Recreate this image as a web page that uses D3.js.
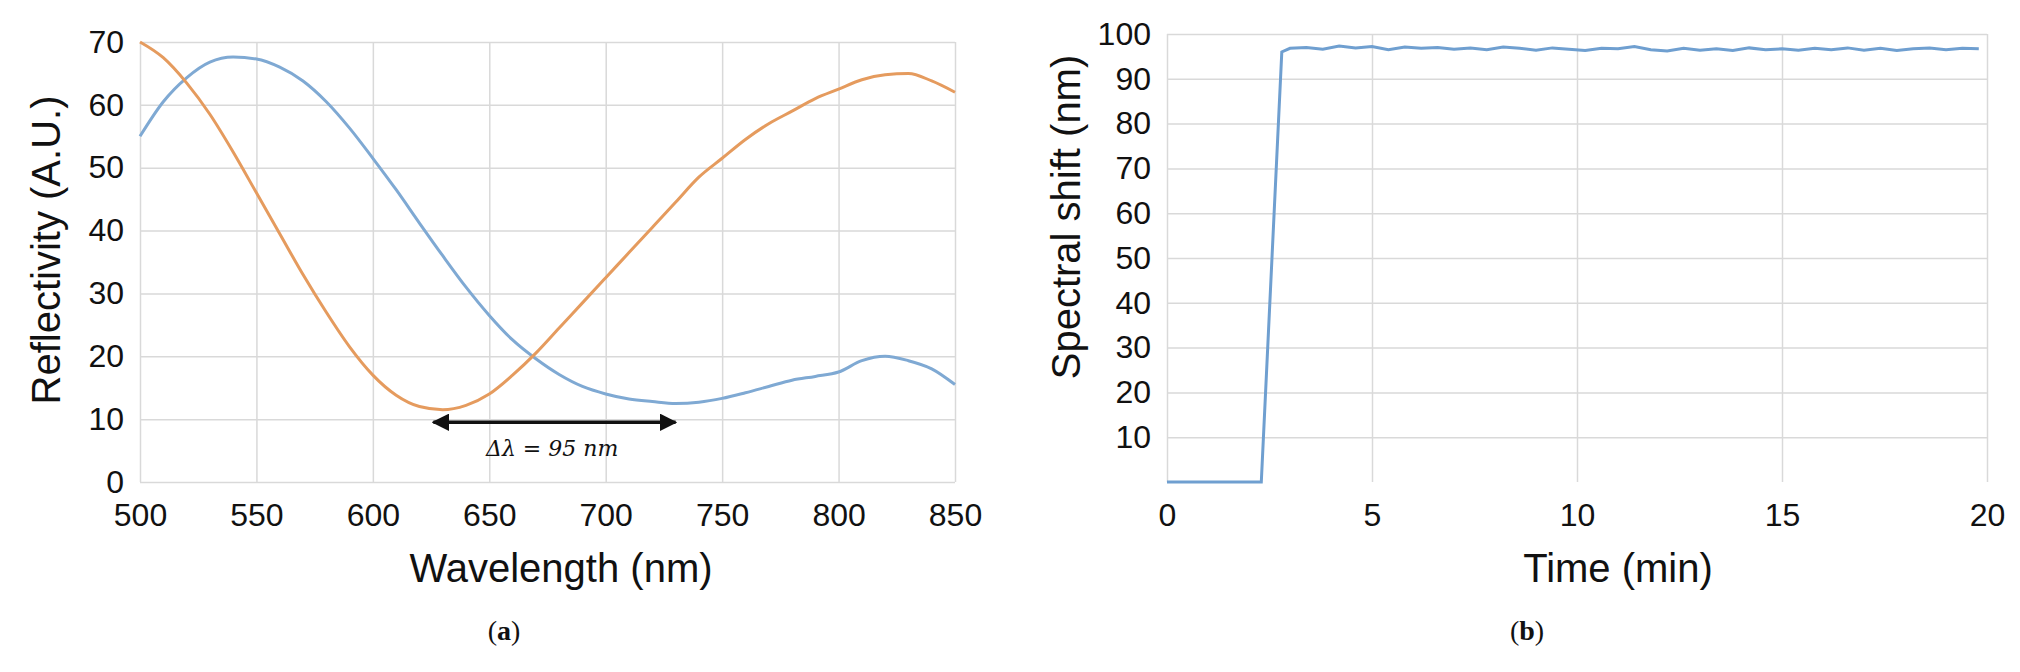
<!DOCTYPE html>
<html>
<head>
<meta charset="utf-8">
<script src="https://cdn.jsdelivr.net/npm/d3@7"></script>
<style>
  body { margin: 0; background: #fff; }
  text { font-family: "Liberation Sans", Arial, sans-serif; fill: #111; }
  .griglia line { stroke: #d9d9d9; stroke-width: 1.5; }
  .griglia path { display: none; }
  .asse path, .asse line { display: none; }
</style>
</head>
<body>
<script>
"use strict"
/* dati (a): lunghezza d'onda (nm) e riflettività */
const lunghezzeOnda = [500, 510, 520, 530, 540, 550, 560, 570, 580, 590, 600, 610, 620, 630, 640, 650, 660, 670, 680, 690, 700, 710, 720, 730, 740, 750, 760, 770, 780, 790, 800, 810, 820, 830, 840, 850];
const riflettivitaBlu = [55, 60.5, 64.3, 66.8, 67.6, 67.3, 66, 63.8, 60.5, 56.3, 51.5, 46.5, 41.2, 36, 31, 26.5, 22.6, 19.6, 17.1, 15.2, 14, 13.2, 12.8, 12.5, 12.7, 13.3, 14.2, 15.2, 16.2, 16.8, 17.5, 19.3, 20, 19.3, 18, 15.5];
const riflettivitaArancio = [70, 67.5, 63.5, 58.5, 52.5, 46, 39.5, 33, 27, 21.5, 17, 13.8, 12, 11.5, 12.2, 14, 17, 20.5, 24.5, 28.5, 32.5, 36.5, 40.5, 44.5, 48.5, 51.5, 54.5, 57, 59, 61, 62.5, 64, 64.8, 65, 63.8, 62];
const tickX1 = [500, 550, 600, 650, 700, 750, 800, 850];
const tickY1 = [0, 10, 20, 30, 40, 50, 60, 70];
/* dati del grafico (b): tempo (min) e spostamento spettrale */
const tempi = [0, 1, 2.3, 2.8, 3.0, 3.4, 3.8, 4.2, 4.6, 5.0, 5.4, 5.8, 6.2, 6.6, 7.0, 7.4, 7.8, 8.2, 8.6, 9.0, 9.4, 9.8, 10.2, 10.6, 11.0, 11.4, 11.8, 12.2, 12.6, 13.0, 13.4, 13.8, 14.2, 14.6, 15.0, 15.4, 15.8, 16.2, 16.6, 17.0, 17.4, 17.8, 18.2, 18.6, 19.0, 19.4, 19.8];
const spostamento = [0, 0, 0, 96, 96.8, 97, 96.6, 97.3, 96.9, 97.2, 96.5, 97.1, 96.8, 97, 96.6, 96.9, 96.5, 97.1, 96.8, 96.4, 96.9, 96.6, 96.3, 96.8, 96.7, 97.2, 96.5, 96.2, 96.8, 96.4, 96.7, 96.3, 96.9, 96.5, 96.7, 96.4, 96.8, 96.5, 96.9, 96.4, 96.8, 96.3, 96.7, 96.9, 96.5, 96.8, 96.7];
const tickX2 = [0, 5, 10, 15, 20];
const tickY2 = [10, 20, 30, 40, 50, 60, 70, 80, 90, 100];

const svg = d3.select("body").append("svg").attr("width", 2020).attr("height", 672);

function disegnaGriglia(sx, sy, tx, ty) {
    svg.append("g").attr("class", "griglia")
        .attr("transform", `translate(0,${sy.range()[0]})`)
        .call(d3.axisBottom(sx).tickValues(tx).tickSize(-(sy.range()[0] - sy.range()[1])).tickFormat(""));
    svg.append("g").attr("class", "griglia")
        .attr("transform", `translate(${sx.range()[0]},0)`)
        .call(d3.axisLeft(sy).tickValues(ty).tickSize(-(sx.range()[1] - sx.range()[0])).tickFormat(""));
}
function disegnaAssi(sx, sy, tx, ty) {
    svg.append("g").attr("class", "asse")
        .attr("transform", `translate(0,${sy.range()[0] + 14})`)
        .call(d3.axisBottom(sx).tickValues(tx).tickSize(0).tickPadding(0))
        .selectAll("text").attr("font-size", "32px").attr("dy", "0.95em");
    svg.append("g").attr("class", "asse")
        .attr("transform", `translate(${sx.range()[0] - 16},0)`)
        .call(d3.axisLeft(sy).tickValues(ty).tickSize(0).tickPadding(0))
        .selectAll("text").attr("font-size", "32px");
}

/* grafico (a) */
const x1 = d3.scaleLinear().domain([500, 850]).range([140, 955]);
const y1 = d3.scaleLinear().domain([0, 70]).range([482, 42]);
disegnaGriglia(x1, y1, tickX1, tickY1);
disegnaAssi(x1, y1, tickX1, tickY1);
const linea1 = (serie) => d3.line().x((d, i) => x1(lunghezzeOnda[i])).y(d => y1(d)).curve(d3.curveMonotoneX)(serie);
svg.append("path").attr("d", linea1(riflettivitaBlu)).attr("fill", "none").attr("stroke", "#7fa9d3").attr("stroke-width", 3);
svg.append("path").attr("d", linea1(riflettivitaArancio)).attr("fill", "none").attr("stroke", "#e59b5e").attr("stroke-width", 3);

/* freccia Δλ */
svg.append("defs").append("marker").attr("id", "punta").attr("viewBox", "0 0 10 10")
    .attr("refX", 9).attr("refY", 5).attr("markerWidth", 5).attr("markerHeight", 5)
    .attr("orient", "auto-start-reverse")
    .append("path").attr("d", "M0,0 L10,5 L0,10 z").attr("fill", "#111");
svg.append("line").attr("x1", x1(626)).attr("x2", x1(730)).attr("y1", y1(9.5)).attr("y2", y1(9.5))
    .attr("stroke", "#111").attr("stroke-width", 3.5)
    .attr("marker-start", "url(#punta)").attr("marker-end", "url(#punta)");
svg.append("text").attr("x", x1(677)).attr("y", y1(4.2)).attr("text-anchor", "middle")
    .attr("font-size", "22px").style("font-family", "'DejaVu Serif', serif").style("font-style", "italic")
    .text("Δλ = 95 nm");

svg.append("text").attr("x", 561).attr("y", 582).attr("text-anchor", "middle").attr("font-size", "40px").text("Wavelength (nm)");
svg.append("text").attr("transform", "translate(60,250) rotate(-90)").attr("text-anchor", "middle").attr("font-size", "40px").text("Reflectivity (A.U.)");
svg.append("text").attr("x", 504).attr("y", 640).attr("text-anchor", "middle").attr("font-size", "28px")
    .style("font-family", "'Liberation Serif', serif").html("(<tspan font-weight='bold'>a</tspan>)");

/* grafico (b) */
const x2 = d3.scaleLinear().domain([0, 20]).range([1167, 1987]);
const y2 = d3.scaleLinear().domain([0, 100]).range([482, 34]);
disegnaGriglia(x2, y2, tickX2, tickY2);
disegnaAssi(x2, y2, tickX2, tickY2);
svg.append("path")
    .attr("d", d3.line().x((d, i) => x2(tempi[i])).y(d => y2(d))(spostamento))
    .attr("fill", "none").attr("stroke", "#6f9fd0").attr("stroke-width", 3);
svg.append("text").attr("x", 1618).attr("y", 582).attr("text-anchor", "middle").attr("font-size", "40px").text("Time (min)");
svg.append("text").attr("transform", "translate(1080,217) rotate(-90)").attr("text-anchor", "middle").attr("font-size", "40px").text("Spectral shift (nm)");
svg.append("text").attr("x", 1527).attr("y", 640).attr("text-anchor", "middle").attr("font-size", "28px")
    .style("font-family", "'Liberation Serif', serif").html("(<tspan font-weight='bold'>b</tspan>)");
</script>
</body>
</html>
